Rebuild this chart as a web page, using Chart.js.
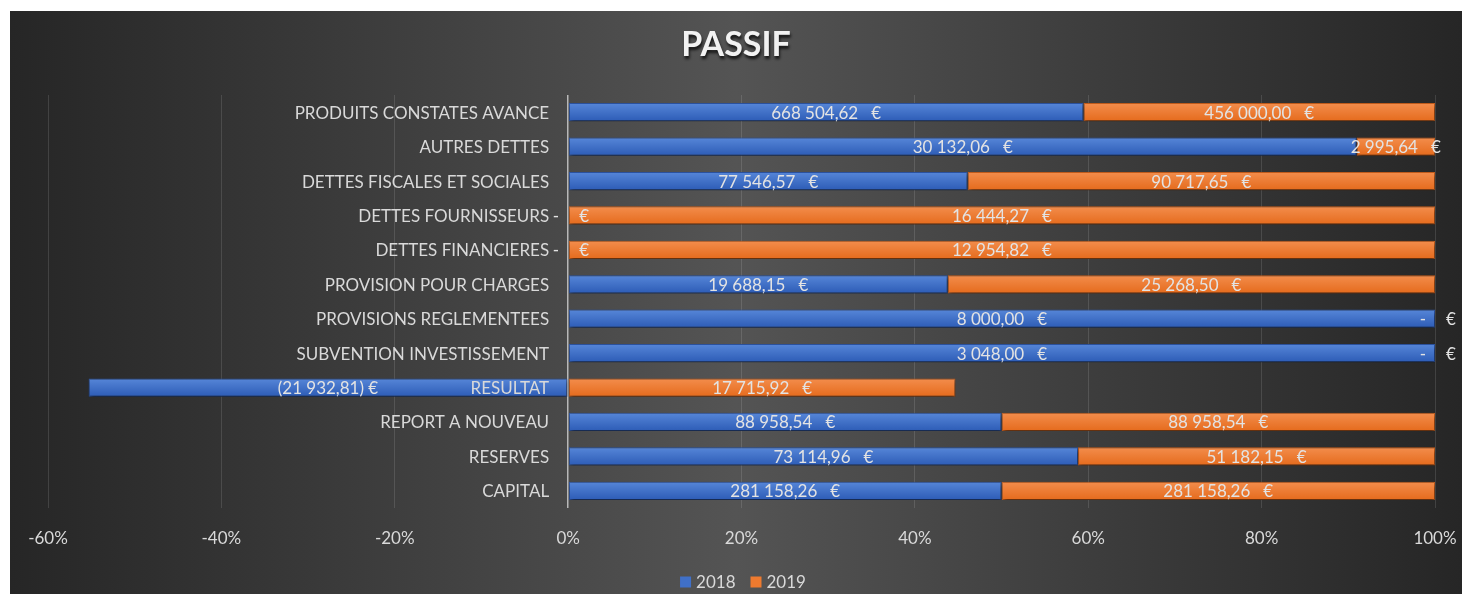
<!DOCTYPE html>
<html>
<head>
<meta charset="utf-8">
<script src="https://cdn.jsdelivr.net/npm/chart.js@4.4.1/dist/chart.umd.min.js"></script>
<style>
  html, body { margin: 0; padding: 0; background: #ffffff; overflow: hidden; }
  #c { position: absolute; left: 10px; top: 11px; }
</style>
</head>
<body>
<canvas id="c" width="1452" height="583" style="width:1452px;height:583px"></canvas>
<script>
const chartTitle = 'PASSIF';
const categories = [
  'PRODUITS CONSTATES AVANCE',
  'AUTRES DETTES',
  'DETTES FISCALES ET SOCIALES',
  'DETTES FOURNISSEURS',
  'DETTES FINANCIERES',
  'PROVISION POUR CHARGES',
  'PROVISIONS REGLEMENTEES',
  'SUBVENTION INVESTISSEMENT',
  'RESULTAT',
  'REPORT A NOUVEAU',
  'RESERVES',
  'CAPITAL'
];
const seriesNames = ['2018', '2019'];
const values2018 = [668504.62, 30132.06, 77546.57, 0, 0, 19688.15, 8000.00, 3048.00, -21932.81, 88958.54, 73114.96, 281158.26];
const values2019 = [456000.00, 2995.64, 90717.65, 16444.27, 12954.82, 25268.50, 0, 0, 17715.92, 88958.54, 51182.15, 281158.26];
const tickMin = -60, tickMax = 100, tickStep = 20;

// 100% stacked shares (same as the spreadsheet's 100% stacked bar)
const totals = values2018.map((v, i) => Math.abs(v) + Math.abs(values2019[i]));
const share2018 = values2018.map((v, i) => totals[i] ? v / totals[i] * 100 : 0);
const share2019 = values2019.map((v, i) => totals[i] ? v / totals[i] * 100 : 0);
const rawValues = [values2018, values2019];

function fmtNum(v) {
  const s = Math.abs(v).toFixed(2);
  let [ip, dp] = s.split('.');
  ip = ip.replace(/\B(?=(\d{3})+(?!\d))/g, '\u202F');
  return ip + ',' + dp;
}

const FONT = 'Lato, "Open Sans", sans-serif';
const TXT = '#d9d9d9';
const BLUE = '#4070c8', ORANGE = '#ee7a2f';

function barGradient(top, bottom, flat) {
  return (c) => {
    const chart = c.chart;
    const ys = chart.scales && chart.scales.y;
    if (!ys || c.dataIndex === undefined) return flat;
    const y = ys.getPixelForValue(c.dataIndex);
    if (!isFinite(y)) return flat;
    const g = chart.ctx.createLinearGradient(0, y - 9, 0, y + 9);
    g.addColorStop(0, top);
    g.addColorStop(1, bottom);
    return g;
  };
}

const bgPlugin = {
  id: 'bg',
  beforeDraw(chart) {
    const { ctx, width, height } = chart;
    ctx.save();
    const g = ctx.createLinearGradient(0, 0, width, 0);
    g.addColorStop(0, '#262626');
    g.addColorStop(0.2, '#383838');
    g.addColorStop(0.5, '#545454');
    g.addColorStop(0.8, '#383838');
    g.addColorStop(1, '#262626');
    ctx.fillStyle = g;
    ctx.fillRect(0, 0, width, height);
    // title
    ctx.font = 'bold 34px ' + FONT;
    ctx.textAlign = 'center';
    ctx.textBaseline = 'middle';
    ctx.shadowColor = 'rgba(0,0,0,0.75)';
    ctx.shadowBlur = 3;
    ctx.shadowOffsetX = 1;
    ctx.shadowOffsetY = 3;
    ctx.fillStyle = '#f2f2f2';
    ctx.fillText(chartTitle, width / 2, 34);
    ctx.restore();
  },
  beforeDatasetsDraw(chart) {
    const ctx = chart.ctx;
    ctx.save();
    ctx.shadowColor = 'rgba(0,0,0,0.55)';
    ctx.shadowBlur = 4;
    ctx.shadowOffsetX = 1;
    ctx.shadowOffsetY = 3;
  },
  afterDatasetsDraw(chart) {
    const ctx = chart.ctx;
    ctx.restore();
    ctx.save();
    // data labels
    ctx.font = '17px ' + FONT;
    ctx.fillStyle = '#e3e3e3';
    ctx.textBaseline = 'middle';
    chart.data.datasets.forEach((ds, di) => {
      const meta = chart.getDatasetMeta(di);
      meta.data.forEach((el, i) => {
        const p = el.getProps(['x', 'y', 'base'], true);
        const cx = (p.x + p.base) / 2;
        const cy = p.y + 1;
        const v = rawValues[di][i];
        if (v === 0) {
          ctx.textAlign = 'right';
          ctx.fillText('-', cx - 9, cy);
          ctx.textAlign = 'left';
          ctx.fillText('\u20AC', cx + 11, cy);
        } else {
          ctx.textAlign = 'center';
          const t = v < 0 ? '(' + fmtNum(v) + ') \u20AC' : fmtNum(v) + '   \u20AC';
          ctx.fillText(t, cx, cy);
        }
      });
    });
    // category labels next to the 0 axis
    const xs = chart.scales.x, ys = chart.scales.y;
    const x0 = xs.getPixelForValue(0);
    ctx.textAlign = 'right';
    ctx.fillStyle = TXT;
    categories.forEach((c, i) => {
      ctx.fillText(c, x0 - 19, ys.getPixelForValue(i) + 1);
    });
    // legend
    const items = [{ label: seriesNames[0], color: BLUE }, { label: seriesNames[1], color: ORANGE }];
    const box = 11, gap = 5, between = 15;
    let total = 0;
    items.forEach((it, k) => {
      total += box + gap + ctx.measureText(it.label).width + (k < items.length - 1 ? between : 0);
    });
    let lx = chart.width / 2 + 7 - total / 2;
    const ly = 571;
    ctx.textAlign = 'left';
    items.forEach(it => {
      ctx.fillStyle = it.color;
      ctx.fillRect(lx, ly - box / 2, box, box);
      lx += box + gap;
      ctx.fillStyle = TXT;
      ctx.fillText(it.label, lx, ly + 1);
      lx += ctx.measureText(it.label).width + between;
    });
    ctx.restore();
  }
};

new Chart(document.getElementById('c'), {
  type: 'bar',
  data: {
    labels: categories,
    datasets: [
      { label: seriesNames[0], data: share2018, backgroundColor: barGradient('#5686d8', '#2d5cb6', BLUE), borderColor: '#2c53a0', borderWidth: 1, borderSkipped: false },
      { label: seriesNames[1], data: share2019, backgroundColor: barGradient('#f38d4c', '#e56b1d', ORANGE), borderColor: '#c45d1c', borderWidth: 1, borderSkipped: false }
    ]
  },
  options: {
    indexAxis: 'y',
    responsive: false,
    maintainAspectRatio: false,
    devicePixelRatio: 1,
    animation: false,
    layout: { padding: { left: 38, right: 27, top: 84, bottom: 46 } },
    datasets: { bar: { categoryPercentage: 1, barPercentage: 0.53 } },
    plugins: {
      legend: { display: false },
      title: { display: false },
      tooltip: { enabled: false }
    },
    scales: {
      x: {
        stacked: true,
        min: tickMin,
        max: tickMax,
        afterFit(s) { s.paddingLeft = 0; s.paddingRight = 0; s.height = 40; },
        ticks: {
          stepSize: tickStep,
          padding: 20,
          color: TXT,
          font: { family: FONT, size: 17 },
          callback: v => v + '%'
        },
        grid: {
          drawTicks: false,
          color: ctx => ctx.tick && ctx.tick.value === 0 ? '#b8b8b8' : 'rgba(255,255,255,0.12)',
          lineWidth: ctx => ctx.tick && ctx.tick.value === 0 ? 1.5 : 1
        },
        border: { display: false }
      },
      y: {
        stacked: true,
        display: false
      }
    }
  },
  plugins: [bgPlugin]
});
</script>
</body>
</html>
